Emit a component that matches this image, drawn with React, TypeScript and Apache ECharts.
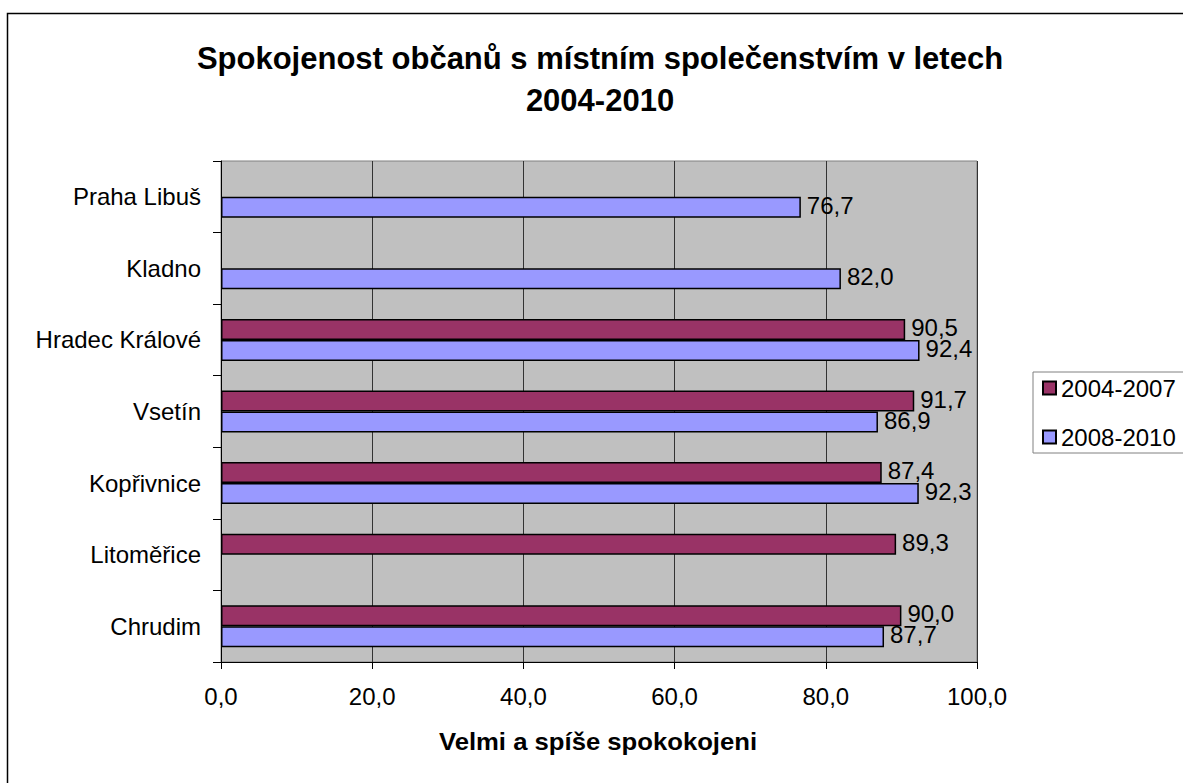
import React, { useEffect, useRef } from "react";
import * as echarts from "echarts";

const categories = ["Chrudim", "Litoměřice", "Kopřivnice", "Vsetín", "Hradec Králové", "Kladno", "Praha Libuš"];
const series2004_2007: (number | null)[] = [90.0, 89.3, 87.4, 91.7, 90.5, null, null];
const series2008_2010: (number | null)[] = [87.7, null, 92.3, 86.9, 92.4, 82.0, 76.7];
const seriesNames = ["2004-2007", "2008-2010"];
const xTicks = { min: 0, max: 100, interval: 20 };
const titleLines = ["Spokojenost občanů s místním společenstvím v letech", "2004-2010"];
const xAxisName = "Velmi a spíše spokokojeni";

const FONT = "'Liberation Sans', Arial, sans-serif";
const fmt = (v: number) => v.toFixed(1).replace(".", ",");

export default function App() {
  const ref = useRef<HTMLDivElement>(null);
  useEffect(() => {
    if (!ref.current) return;
    const chart = echarts.init(ref.current, null, { renderer: "svg" });
    const label = {
      show: true,
      position: "right" as const,
      distance: 6,
      offset: [0, -2],
      color: "#000",
      fontSize: 24,
      fontFamily: FONT,
      formatter: (p: any) => fmt(p.value),
    };
    chart.setOption({
      animation: false,
      backgroundColor: "#fff",
      textStyle: { fontFamily: FONT },
      graphic: [
        {
          type: "rect",
          shape: { x: 7.5, y: 13.5, width: 1300, height: 1000 },
          style: { fill: "none", stroke: "#000", lineWidth: 1.5 },
          z: 100,
        },
        {
          type: "text",
          x: 600,
          y: 58,
          style: {
            text: titleLines[0],
            textAlign: "center",
            textVerticalAlign: "middle",
            font: `bold 31px ${FONT}`,
            fill: "#000",
          },
        },
        {
          type: "text",
          x: 600,
          y: 100,
          style: {
            text: titleLines[1],
            textAlign: "center",
            textVerticalAlign: "middle",
            font: `bold 31px ${FONT}`,
            fill: "#000",
          },
        },
        {
          type: "text",
          x: 598,
          y: 742,
          scaleX: 1.07,
          style: {
            text: xAxisName,
            textAlign: "center",
            textVerticalAlign: "middle",
            font: `bold 24px ${FONT}`,
            fill: "#000",
          },
        },
      ],
      legend: {
        orient: "vertical",
        left: 1033,
        top: 372,
        data: seriesNames,
        backgroundColor: "#fff",
        borderColor: "#808080",
        borderWidth: 1,
        padding: [4, 8, 4, 9],
        itemWidth: 13,
        itemHeight: 13,
        itemGap: 25,
        icon: "rect",
        textStyle: { fontSize: 24, color: "#000", fontFamily: FONT, lineHeight: 24 },
      },
      grid: {
        left: 221,
        top: 161,
        width: 756,
        height: 501,
        show: true,
        backgroundColor: "#c0c0c0",
        borderColor: "#808080",
        borderWidth: 1,
      },
      xAxis: {
        type: "value",
        min: xTicks.min,
        max: xTicks.max,
        interval: xTicks.interval,
        axisLine: { show: true, lineStyle: { color: "#000", width: 1 } },
        axisTick: { show: true, length: 7, lineStyle: { color: "#000" } },
        axisLabel: { margin: 22, fontSize: 24, color: "#000", fontFamily: FONT, formatter: (v: number) => fmt(v) },
        splitLine: { show: true, lineStyle: { color: "#333", width: 1 } },
      },
      yAxis: {
        type: "category",
        data: categories,
        axisLine: { show: true, lineStyle: { color: "#000", width: 1 } },
        axisTick: { show: true, length: 8, lineStyle: { color: "#000" } },
        axisLabel: { margin: 20, fontSize: 24, color: "#000", fontFamily: FONT },
        splitLine: { show: false },
      },
      series: [
        {
          name: seriesNames[0],
          type: "bar",
          data: series2004_2007,
          barWidth: 21,
          barGap: "0%",
          itemStyle: { color: "#993366", borderColor: "#000", borderWidth: 1.5 },
          label,
        },
        {
          name: seriesNames[1],
          type: "bar",
          data: series2008_2010,
          barWidth: 21,
          barGap: "0%",
          itemStyle: { color: "#9999ff", borderColor: "#000", borderWidth: 1.5 },
          label,
        },
      ],
    });
    return () => chart.dispose();
  }, []);
  return <div ref={ref} style={{ position: "absolute", left: 0, top: 0, width: 1183, height: 783 }} />;
}
